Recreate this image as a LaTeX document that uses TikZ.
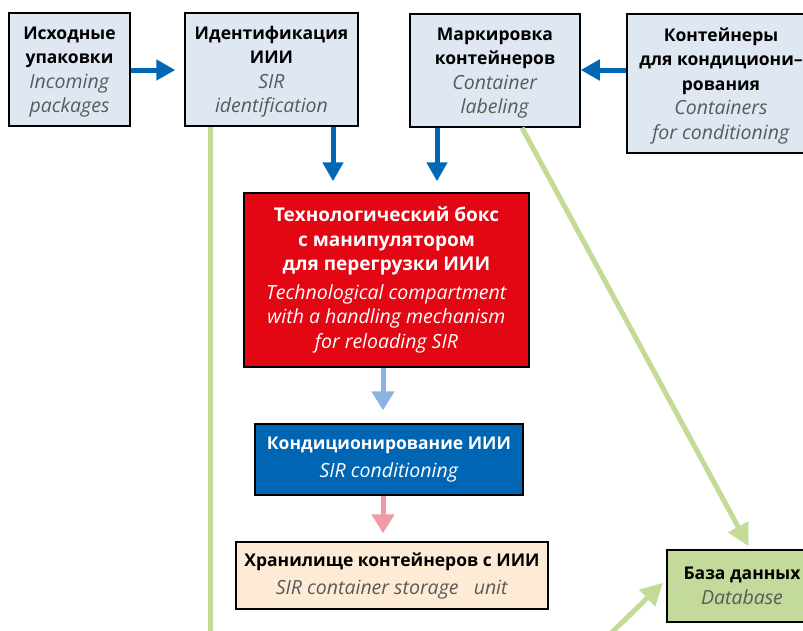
\documentclass[tikz,border=0pt]{standalone}
\usepackage{fontspec}
\setmainfont{Open Sans}
\usetikzlibrary{arrows.meta}
\definecolor{boxblue}{HTML}{DFE7F3}
\definecolor{redbox}{HTML}{E30613}
\definecolor{bluebox}{HTML}{0066B3}
\definecolor{storebox}{HTML}{FDEBD6}
\definecolor{dbgreen}{HTML}{C4DA9A}
\definecolor{linegreen}{HTML}{C3DB94}
\definecolor{arrblue}{HTML}{0067B4}
\definecolor{lightarr}{HTML}{8DB3E2}
\definecolor{pinkarr}{HTML}{F09AA5}
\definecolor{greytext}{HTML}{5A5A5A}
\newcommand{\bl}[1]{\textbf{#1}}
\newcommand{\bb}[1]{\textbf{\fontsize{19}{25}\selectfont #1}}
\newcommand{\gi}[1]{\textcolor{greytext}{\fontsize{19.5}{24.5}\selectfont\textit{#1}}}
\newcommand{\iw}[1]{\textcolor{white}{\fontsize{19.5}{24.5}\selectfont\textit{#1}}}
\begin{document}
\begin{tikzpicture}[x=1pt,y=-1pt,
  box/.style={draw=black,line width=1.5pt,rectangle,inner sep=0pt,align=center,
    font=\fontsize{17.5}{24.5}\selectfont},
  lbox/.style={box,fill=boxblue,text depth=0pt},
  barr/.style={draw=arrblue,line width=5pt,-{Triangle[width=20pt,length=19pt]}},
  garr/.style={draw=linegreen,line width=5pt,-{Triangle[width=22pt,length=22pt]}},
  gline/.style={draw=linegreen,line width=5pt}]
\clip (0,0) rectangle (803,630);
\fill[white] (0,0) rectangle (803,630);
% top row
\node[lbox,minimum width=121pt,minimum height=113pt] (A) at (69.5,69.5)
  {\bl{Исходные}\\\bl{упаковки}\\\gi{Incoming}\\\gi{packages}};
\node[lbox,minimum width=173pt,minimum height=113pt] (B) at (271.5,69.5)
  {\bl{Идентификация}\\\bl{ИИИ}\\\gi{SIR}\\\gi{identification}};
\node[lbox,minimum width=170pt,minimum height=113pt] (C) at (495,70.5)
  {\bl{Маркировка}\\\bl{контейнеров}\\\gi{Container}\\\gi{labeling}};
\node[lbox,minimum width=188pt,minimum height=139pt] (D) at (721,83.5)
  {\bl{Контейнеры}\\\bl{для кондициони–}\\\bl{рования}\\\gi{Containers}\\\gi{for conditioning}};
% middle
\node[box,fill=redbox,text=white,minimum width=285pt,minimum height=174pt] (R) at (386.5,280)
  {\bb{Технологический бокс}\\\bb{с манипулятором}\\\bb{для перегрузки ИИИ}\\[4pt]\iw{Technological compartment}\\\iw{with a handling mechanism}\\\iw{for reloading SIR}};
\node[box,fill=bluebox,text=white,minimum width=268pt,minimum height=71pt,
  font=\fontsize{17.5}{28}\selectfont] (K) at (389,459.5)
  {\bl{Кондиционирование ИИИ}\\\iw{SIR conditioning}};
\node[box,fill=storebox,minimum width=312pt,minimum height=67pt,
  font=\fontsize{17.5}{28}\selectfont] (S) at (392,575.5)
  {\bl{Хранилище контейнеров с ИИИ}\\\gi{SIR container storage\ \ \ unit}};
\node[box,fill=dbgreen,line width=2.5pt,minimum width=150pt,minimum height=72pt,
  font=\fontsize{17.5}{25}\selectfont] (DB) at (742,586)
  {\bl{База данных}\\\gi{Database}};
% free ends
\coordinate (gb) at (210,640);
\coordinate (gs) at (604,640);
% blue arrows
\draw[barr,shorten >=9pt] (A.east |- 0,70) -- (B.west |- 0,70);
\draw[barr] (D.west |- 0,70) -- (C.east |- 0,70);
\draw[barr,shorten >=11pt] (B.south -| 333,0) -- (R.north -| 333,0);
\draw[barr,shorten >=11pt] (C.south -| 437,0) -- (R.north -| 437,0);
\draw[barr,draw=lightarr,shorten >=13pt,-{Triangle[width=22pt,length=19pt]}] (R.south -| 383,0) -- (K.north -| 383,0);
\draw[barr,draw=pinkarr,shorten >=8pt,-{Triangle[width=22pt,length=19pt]}] (K.south -| 383,0) -- (S.north -| 383,0);
% green lines
\draw[gline] (B.south -| 210,0) -- (gb);
\draw[garr,shorten >=3pt] (C.south -| 522,0) -- (DB.north -| 750,0);
\draw[garr,shorten >=4pt] (gs) -- (DB.west |- 0,580);
\end{tikzpicture}
\end{document}
